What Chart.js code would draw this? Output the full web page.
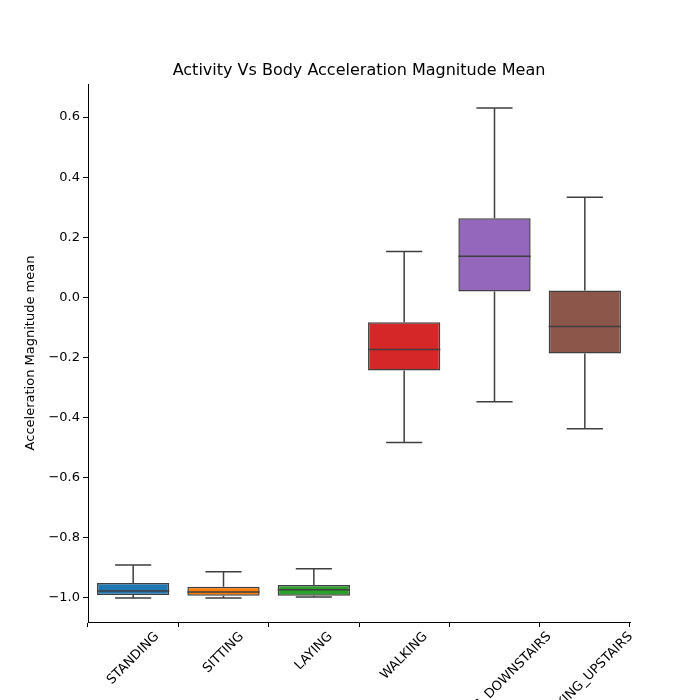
<!DOCTYPE html>
<html>
<head>
<meta charset="utf-8">
<script src="https://cdn.jsdelivr.net/npm/chart.js@4/dist/chart.umd.min.js"></script>
<style>
  body { margin: 0; background: #fff; }
  #wrap { width: 700px; height: 700px; }
</style>
</head>
<body>
<div id="wrap"><canvas id="boxChart"></canvas></div>
<script>
// activities and box statistics
var activities = ['STANDING', 'SITTING', 'LAYING', 'WALKING', 'WALKING_DOWNSTAIRS', 'WALKING_UPSTAIRS'];
var whiskerLow = [-1.0, -1.0, -0.997, -0.483, -0.347, -0.437];
var q1 = [-0.99, -0.993, -0.993, -0.243, 0.02, -0.187];
var median = [-0.977, -0.98, -0.973, -0.173, 0.137, -0.097];
var q3 = [-0.95, -0.963, -0.957, -0.083, 0.263, 0.023];
var whiskerHigh = [-0.89, -0.913, -0.903, 0.153, 0.63, 0.333];
var boxColors = ['#1f77b4', '#ff7f0e', '#2ca02c', '#d62728', '#9467bd', '#8c564b'];
var yTicks = [-1.0, -0.8, -0.6, -0.4, -0.2, 0.0, 0.2, 0.4, 0.6];

var FONT = 'DejaVu Sans';
var EDGE = '#3f3f3f';

// whiskers, medians, title, labels
var boxExtras = {
  id: 'boxExtras',
  afterDatasetsDraw: function(chart) {
    var ctx = chart.ctx, xs = chart.scales.x, ys = chart.scales.y;
    var half = xs.width / activities.length * 0.8 / 2;
    ctx.save();
    ctx.strokeStyle = EDGE;
    ctx.lineWidth = 1.5;
    activities.forEach(function(a, i) {
      var x = xs.getPixelForValue(i);
      ctx.beginPath();
      ctx.moveTo(x, ys.getPixelForValue(q3[i])); ctx.lineTo(x, ys.getPixelForValue(whiskerHigh[i]));
      ctx.moveTo(x, ys.getPixelForValue(q1[i])); ctx.lineTo(x, ys.getPixelForValue(whiskerLow[i]));
      ctx.moveTo(x - half / 2, ys.getPixelForValue(whiskerHigh[i])); ctx.lineTo(x + half / 2, ys.getPixelForValue(whiskerHigh[i]));
      ctx.moveTo(x - half / 2, ys.getPixelForValue(whiskerLow[i])); ctx.lineTo(x + half / 2, ys.getPixelForValue(whiskerLow[i]));
      ctx.moveTo(x - half, ys.getPixelForValue(median[i])); ctx.lineTo(x + half, ys.getPixelForValue(median[i]));
      ctx.stroke();
    });
    ctx.restore();
  },
  afterDraw: function(chart) {
    var ctx = chart.ctx, xs = chart.scales.x, area = chart.chartArea;
    ctx.save();
    ctx.fillStyle = '#000';
    // title
    ctx.font = '16px "' + FONT + '"';
    ctx.textAlign = 'center';
    ctx.textBaseline = 'bottom';
    ctx.fillText('Activity Vs Body Accelerate Magnitude Mean'.replace('Accelerate', 'Acceleration'), (area.left + area.right) / 2, area.top - 5);
    // y label
    ctx.font = '13px "' + FONT + '"';
    ctx.translate(31, (area.top + area.bottom) / 2);
    ctx.rotate(-Math.PI / 2);
    ctx.textBaseline = 'middle';
    ctx.fillText('Acceleration Magnitude mean', 0, 0);
    ctx.restore();
    // x tick labels, rotated 45deg and centred on tick
    ctx.save();
    ctx.font = '13px "' + FONT + '"';
    ctx.fillStyle = '#000';
    activities.forEach(function(a, i) {
      var w = ctx.measureText(a).width;
      var c = Math.SQRT1_2;
      var bh = (w + 13) * c;
      ctx.save();
      ctx.translate(xs.getPixelForValue(i), area.bottom + 8 + bh / 2);
      ctx.rotate(-Math.PI / 4);
      ctx.textAlign = 'center';
      ctx.textBaseline = 'middle';
      ctx.fillText(a, 0, 0);
      ctx.restore();
    });
    ctx.restore();
  }
};

new Chart(document.getElementById('boxChart').getContext('2d'), {
  type: 'bar',
  data: {
    labels: activities,
    datasets: [{
      data: activities.map(function(a, i) { return [q1[i], q3[i]]; }),
      backgroundColor: boxColors,
      borderColor: EDGE,
      borderWidth: 1.5,
      borderSkipped: false,
      barPercentage: 0.8,
      categoryPercentage: 1.0
    }]
  },
  options: {
    responsive: true,
    maintainAspectRatio: false,
    animation: false,
    layout: { padding: { top: 84, right: 70, left: 0, bottom: 0 } },
    plugins: { legend: { display: false }, tooltip: { enabled: false } },
    scales: {
      x: {
        grid: { drawOnChartArea: false, drawTicks: true, tickLength: 5, color: '#000' },
        border: { color: '#000' },
        ticks: { color: 'rgba(0,0,0,0)', maxRotation: 0, autoSkip: false },
        afterFit: function(s) { s.height = 78; }
      },
      y: {
        min: -1.08,
        max: 0.71,
        grid: { drawOnChartArea: false, drawTicks: true, tickLength: 5, color: '#000' },
        border: { color: '#000' },
        afterBuildTicks: function(s) { s.ticks = yTicks.map(function(v) { return { value: v }; }); },
        ticks: {
          color: '#000',
          font: { family: FONT, size: 13 },
          callback: function(v) { return Number(v).toFixed(1).replace('-', '\u2212'); }
        },
        afterFit: function(s) { s.width = 88; }
      }
    }
  },
  plugins: [boxExtras]
});
</script>
</body>
</html>
